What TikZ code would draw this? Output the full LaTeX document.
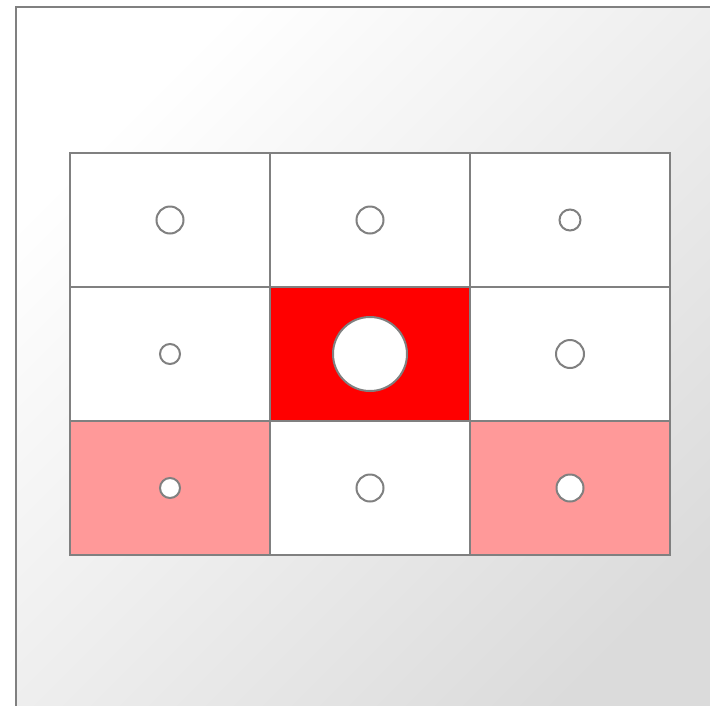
\documentclass[tikz,border=0pt]{standalone}
\usepackage{tikz}
\usetikzlibrary{positioning}
\definecolor{linegray}{RGB}{128,128,128}
\definecolor{hotred}{RGB}{255,0,0}
\definecolor{softred}{RGB}{255,153,153}
\tikzset{cell/.style={draw=linegray, line width=2pt, fill=white, minimum width=200pt, minimum height=134pt, inner sep=0pt, outer sep=0pt}, hot/.style={cell, fill=hotred}, warm/.style={cell, fill=softred}, dot/.style={circle, draw=linegray, line width=2pt, fill=white, inner sep=0pt}}

\begin{document}
\begin{tikzpicture}[x=1pt,y=-1pt]
\useasboundingbox (0,0) rectangle (710,705);
\clip (0,0) rectangle (710,705);
\fill[white] (0,0) rectangle (710,705);
\shade[top color=white, bottom color=black!14, shading angle=45] (16,6.5) rectangle (740,735);
\draw[linegray, line width=2pt] (740,6.5) -- (16,6.5) -- (16,735);
% grid of cells
\node[cell] (c11) at (170,220) {};
\node[cell,right=0pt of c11] (c12) {};
\node[cell,right=0pt of c12] (c13) {};
\node[cell,below=0pt of c11] (c21) {};
\node[hot,right=0pt of c21] (c22) {};
\node[cell,right=0pt of c22] (c23) {};
\node[warm,below=0pt of c21] (c31) {};
\node[cell,right=0pt of c31] (c32) {};
\node[warm,right=0pt of c32] (c33) {};
% circles
\node[dot,minimum size=27pt] (d11) at (c11.center) {};
\node[dot,minimum size=27pt] (d12) at (c12.center) {};
\node[dot,minimum size=21pt] (d13) at (c13.center) {};
\node[dot,minimum size=20pt] (d21) at (c21.center) {};
\node[dot,minimum size=74pt] (d22) at (c22.center) {};
\node[dot,minimum size=28pt] (d23) at (c23.center) {};
\node[dot,minimum size=20pt] (d31) at (c31.center) {};
\node[dot,minimum size=27pt] (d32) at (c32.center) {};
\node[dot,minimum size=27pt] (d33) at (c33.center) {};
\end{tikzpicture}
\end{document}
